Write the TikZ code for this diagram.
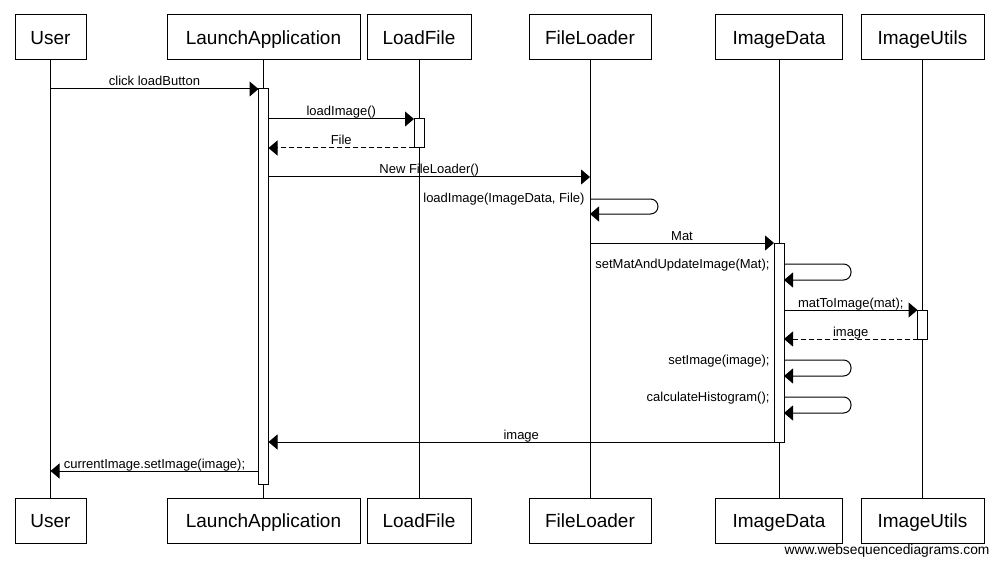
\documentclass[tikz,border=0pt]{standalone}
\usepackage{fontspec}
\setmainfont{Liberation Sans}
\usetikzlibrary{positioning}
\usetikzlibrary{arrows.meta}

\begin{document}
\begin{tikzpicture}[x=1pt, y=-1pt, line width=1pt,
            actor/.style={draw, rectangle, minimum height=45pt, inner sep=0pt, outer sep=0pt, text height=14pt, text depth=0pt, font=\fontsize{19}{22}\selectfont},
            activation/.style={draw, rectangle, fill=white, minimum width=10pt, inner sep=0pt, outer sep=0pt, anchor=north},
            msg/.style={-{Triangle[length=9pt, width=15pt]}},
            reply/.style={msg, dash pattern=on 5pt off 3pt},
            selfloop/.style={msg, rounded corners=7.5pt},
            msglabel/.style={font=\fontsize{13}{15}\selectfont, anchor=base, inner sep=0pt, yshift=3pt},
            looplabel/.style={font=\fontsize{13}{15}\selectfont, anchor=east, inner sep=0pt}]
            \useasboundingbox (0,0) rectangle (999,567);

            \node[actor, minimum width=71pt] (userT) at (50.5,37.5) {User};
            \node[actor, minimum width=193pt] (launchT) at (263.5,37.5) {LaunchApplication};
            \node[actor, minimum width=104pt] (loadT) at (419,37.5) {LoadFile};
            \node[actor, minimum width=122pt] (fileT) at (590,37.5) {FileLoader};
            \node[actor, minimum width=127pt] (dataT) at (779,37.5) {ImageData};
            \node[actor, minimum width=123pt] (utilsT) at (922.5,37.5) {ImageUtils};

            \node[actor, minimum width=71pt] (userB) at (50.5,520.5) {User};
            \node[actor, minimum width=193pt] (launchB) at (263.5,520.5) {LaunchApplication};
            \node[actor, minimum width=104pt] (loadB) at (419,520.5) {LoadFile};
            \node[actor, minimum width=122pt] (fileB) at (590,520.5) {FileLoader};
            \node[actor, minimum width=127pt] (dataB) at (779,520.5) {ImageData};
            \node[actor, minimum width=123pt] (utilsB) at (922.5,520.5) {ImageUtils};

            \draw (userT) -- (userB);
            \draw (launchT) -- (launchB);
            \draw (loadT) -- (loadB);
            \draw (fileT) -- (fileB);
            \draw (dataT) -- (dataB);
            \draw (utilsT) -- (utilsB);

            \node[activation, minimum height=395pt] (actLaunch) at (launchT |- 0,89) {};
            \node[activation, minimum height=29pt] (actLoad) at (loadT |- 0,119) {};
            \node[activation, minimum height=199pt] (actData) at (dataT |- 0,243) {};
            \node[activation, minimum height=29pt] (actUtils) at (utilsT |- 0,310) {};

            \draw[msg] (userT |- 0,89) -- node[msglabel] {click loadButton} (actLaunch.north west);
            \draw[msg] (actLaunch.east |- 0,119) -- node[msglabel] {loadImage()} (actLoad.north west);
            \draw[reply] (actLoad.south west) -- node[msglabel] {File} (actLaunch.east |- 0,148);
            \draw[msg] (actLaunch.east |- 0,177) -- node[msglabel] {New FileLoader()} (fileT |- 0,177);

            \draw[selfloop] (fileT |- 0,199) -- ++(68,0) |- (fileT |- 0,214);
            \node[looplabel, xshift=-5pt] (lblLoadImage) at (fileT |- 0,199) {loadImage(ImageData, File)};

            \draw[msg] (fileT |- 0,243) -- node[msglabel] {Mat} (actData.north west);

            \draw[selfloop] (actData.east |- 0,264) -- ++(67,0) |- (actData.east |- 0,280);
            \node[looplabel, xshift=-4pt] (lblSetMat) at (actData.west |- 0,265) {setMatAndUpdateImage(Mat);};

            \draw[msg] (actData.east |- 0,310) -- node[msglabel] {matToImage(mat);} (actUtils.north west);
            \draw[reply] (actUtils.south west) -- node[msglabel] {image} (actData.east |- 0,339);

            \draw[selfloop] (actData.east |- 0,360) -- ++(67,0) |- (actData.east |- 0,376);
            \node[looplabel, xshift=-4pt] (lblSetImage) at (actData.west |- 0,361) {setImage(image);};

            \draw[selfloop] (actData.east |- 0,397) -- ++(67,0) |- (actData.east |- 0,413);
            \node[looplabel, xshift=-4pt] (lblHistogram) at (actData.west |- 0,398) {calculateHistogram();};

            \draw[msg] (actData.south west) -- node[msglabel] {image} (actLaunch.east |- 0,442);
            \draw[msg] (actLaunch.west |- 0,471) -- node[msglabel] {currentImage.setImage(image);} (userT |- 0,471);

            \node[anchor=east, inner sep=0pt, font=\fontsize{13.8}{16}\selectfont] (credit) at (990,551) {www.websequencediagrams.com};
        \end{tikzpicture}
\end{document}
